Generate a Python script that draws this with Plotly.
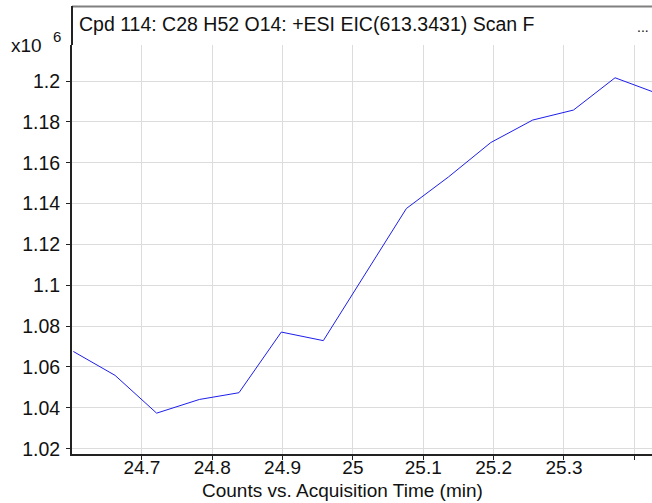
import plotly.graph_objects as go

# ---- data ----
times_min = [24.6026, 24.6619, 24.7210, 24.7817, 24.8380, 24.8982, 24.9579, 25.0170,
             25.0760, 25.1360, 25.1960, 25.2555, 25.3135, 25.3726, 25.4328]
counts = [1067600, 1055900, 1037400, 1044100, 1047400, 1077100, 1072900, 1105400,
          1137600, 1153100, 1169900, 1180900, 1185800, 1201600, 1193900]
x_ticks = [24.7, 24.8, 24.9, 25.0, 25.1, 25.2, 25.3, 25.4]
x_tick_labels = ["24.7", "24.8", "24.9", "25", "25.1", "25.2", "25.3", ""]
y_ticks = [1.02, 1.04, 1.06, 1.08, 1.10, 1.12, 1.14, 1.16, 1.18, 1.20]
y_tick_labels = ["1.02", "1.04", "1.06", "1.08", "1.1", "1.12", "1.14", "1.16", "1.18", "1.2"]
title_text = "Cpd 114: C28 H52 O14: +ESI EIC(613.3431) Scan F"
x_title = "Counts vs. Acquisition Time (min)"
scale = 1e6

# ---- layout geometry ----
W, H = 652, 503
L, R, T, B = 72, 0, 45, 49
pw, ph = W - L - R, H - T - B


def px(xp):
    return (xp - L) / pw


def py(yp):
    return (H - B - yp) / ph


FONT = "Liberation Sans, Arial, sans-serif"

fig = go.Figure()
fig.add_trace(go.Scatter(
    x=times_min, y=[c / scale for c in counts], mode="lines",
    line=dict(color="rgb(30,30,235)", width=1), showlegend=False,
    hoverinfo="skip"))

axis_common = dict(showgrid=True, gridcolor="#dcdcdc", gridwidth=1, zeroline=False,
                   showline=True, linecolor="#222222", linewidth=2,
                   ticks="outside", ticklen=4, tickwidth=1, tickcolor="#222222",
                   automargin=False)

fig.update_layout(
    width=W, height=H,
    margin=dict(l=L, r=R, t=T, b=B, pad=0, autoexpand=False),
    paper_bgcolor="white", plot_bgcolor="white",
    font=dict(family=FONT, size=20, color="#111111"),
    xaxis=dict(range=[24.6007, 25.4251], tickvals=x_ticks, ticktext=x_tick_labels,
               tickfont=dict(size=19), ticklabelstandoff=-9, **axis_common),
    yaxis=dict(range=[1.0174, 1.21765], tickvals=y_ticks, ticktext=y_tick_labels,
               tickfont=dict(size=19.5), ticklabelstandoff=2, **axis_common),
)

# frame above plot (title box)
fig.add_shape(type="line", xref="paper", yref="paper",
              x0=px(72), x1=px(652), y0=py(6.5), y1=py(6.5),
              line=dict(color="#808080", width=2))
fig.add_shape(type="line", xref="paper", yref="paper",
              x0=0, x1=0, y0=1, y1=py(6),
              line=dict(color="#222222", width=2))

annotations = [
    dict(text=title_text, x=px(77), y=py(24), xanchor="left", yanchor="middle",
         font=dict(size=19.5)),
    dict(text="...", x=px(635), y=py(27), xanchor="left", yanchor="middle",
         font=dict(size=14)),
    dict(text="x10", x=px(9), y=py(45), xanchor="left", yanchor="middle",
         font=dict(size=19)),
    dict(text="6", x=px(51), y=py(37), xanchor="left", yanchor="middle",
         font=dict(size=15)),
    dict(text=x_title, x=px(342), y=py(490), xanchor="center", yanchor="middle",
         font=dict(size=19)),
]
for a in annotations:
    fig.add_annotation(xref="paper", yref="paper", showarrow=False, **a)

fig.write_html("out.html", config={"displayModeBar": False},
               post_script="document.body.style.margin='0px';document.body.style.padding='0px';")
